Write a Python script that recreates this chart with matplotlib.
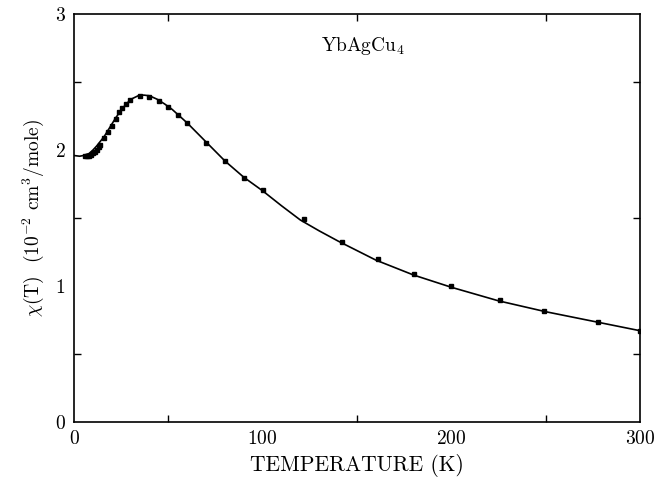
import matplotlib
matplotlib.use("Agg")
import matplotlib.pyplot as plt
from matplotlib.ticker import MultipleLocator

plt.rcParams['font.family'] = 'serif'
plt.rcParams['font.serif'] = ['cmr10', 'DejaVu Serif']
plt.rcParams['mathtext.fontset'] = 'cm'
plt.rcParams['axes.formatter.use_mathtext'] = True

# measured points
T_data = [6, 7, 8, 9, 10, 11, 12, 13, 14, 16, 18, 20, 22, 23.7, 25.4, 27.6, 29.8,
          35, 40, 45, 50, 55, 60, 70, 80, 90, 100, 122, 142, 161, 180, 200,
          226, 249, 278, 300]
chi_data = [1.955, 1.955, 1.96, 1.965, 1.975, 1.985, 2.0, 2.02, 2.04, 2.09, 2.135,
            2.18, 2.23, 2.28, 2.31, 2.34, 2.37,
            2.40, 2.393, 2.36, 2.315, 2.26, 2.20, 2.054, 1.917, 1.797, 1.706,
            1.493, 1.326, 1.198, 1.085, 1.00, 0.896, 0.813, 0.734, 0.67]

# fitted curve
T_fit = [0, 3, 5, 8, 10, 12, 14, 16, 18, 20, 22, 25, 28, 31, 34, 37, 40, 44, 48,
         52, 56, 60, 65, 70, 80, 90, 100, 110, 120, 130, 140, 160, 180, 200, 225,
         250, 275, 300]
chi_fit = [1.96, 1.955, 1.96, 1.975, 2.0, 2.03, 2.065, 2.10, 2.145, 2.19, 2.235,
           2.295, 2.345, 2.38, 2.40, 2.405, 2.40, 2.375, 2.34, 2.30, 2.25, 2.20,
           2.13, 2.06, 1.92, 1.80, 1.70, 1.59, 1.485, 1.405, 1.33, 1.19, 1.08,
           0.99, 0.89, 0.81, 0.74, 0.67]

xticks = [0, 100, 200, 300]
yticks = [0, 1, 2, 3]
title = r'YbAgCu$_4$'

fig = plt.figure(figsize=(6.56, 4.79), dpi=100)
ax = fig.add_axes([74/656, 1 - 421.7/479, 566/656, 407.4/479])

ax.plot(T_fit, chi_fit, color='black', lw=1.2, zorder=2)
ax.plot(T_data, chi_data, 's', color='black', markersize=3.5, zorder=3)

ax.set_xlim(0, 300)
ax.set_ylim(0, 3)
ax.set_xticks(xticks)
ax.set_yticks(yticks)
ax.xaxis.set_minor_locator(MultipleLocator(50))
ax.yaxis.set_minor_locator(MultipleLocator(0.5))
ax.tick_params(which='both', direction='in', top=True, right=True,
               labelsize=14, length=0, width=1)
ax.tick_params(which='major', pad=6)
ax.tick_params(which='minor', length=5)
for s in ax.spines.values():
    s.set_linewidth(1.2)

ax.set_xlabel('TEMPERATURE (K)', fontsize=15.5, labelpad=4)
ax.set_ylabel(r'$\chi$(T)  (10$^{-2}$ cm$^3$/mole)', fontsize=14, labelpad=6)
ax.text(153, 2.77, title, fontsize=14, ha='center', va='center')

fig.savefig('out.png', dpi=100)
